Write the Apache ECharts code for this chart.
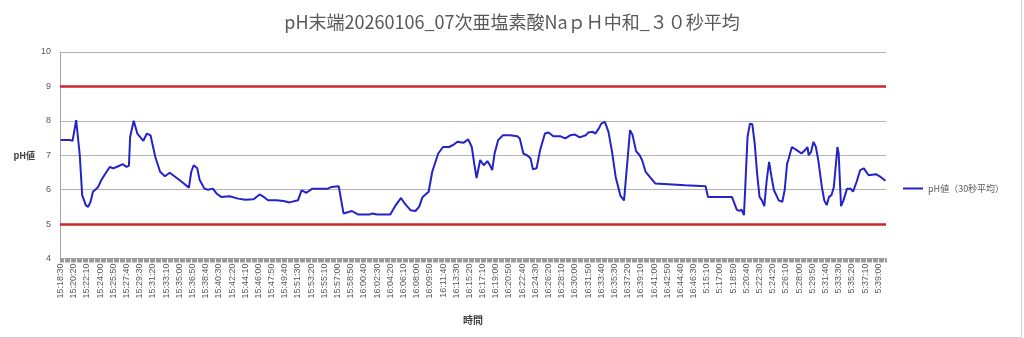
<!DOCTYPE html>
<html>
<head>
<meta charset="utf-8">
<script src="https://cdn.jsdelivr.net/npm/echarts@6/dist/echarts.min.js"></script>
<style>
html,body{margin:0;padding:0;background:#fff;}
#chart{width:1024px;height:338px;}
</style>
</head>
<body>
<div id="chart"></div>
<script>
// ---- data ----
var titleText = 'pH末端20260106_07次亜塩素酸NaｐＨ中和_３０秒平均';
var seriesName = 'pH値（30秒平均）';
// time segments of the category axis (10 s steps)
var segmentStarts = ['15:18:30', '5:15:10'];
var segmentCounts = [539, 150];
// sampled readings: category index and pH value
var sampleIndex = [0,8,10,13,16,18,21,23,25,27,31,34,37,41,44,48,52,55,57,58,61,64,69,72,75,79,83,87,91,95,101,107,109,111,114,116,120,123,127,130,134,141,148,154,161,166,169,173,180,186,191,198,201,205,210,215,223,226,232,233,236,243,248,258,260,264,275,279,284,287,292,296,299,302,307,310,315,319,324,328,331,336,340,343,345,347,350,353,356,358,360,362,365,369,375,381,383,386,389,392,394,397,400,404,407,411,417,421,425,429,433,438,440,444,446,449,451,454,457,460,463,467,470,472,475,477,480,483,485,488,492,496,507,521,538,540,560,564,566,568,570,571,573,575,577,579,581,583,585,587,589,591,593,595,599,602,604,606,607,610,614,618,621,623,624,626,628,630,632,635,637,639,641,643,645,648,649,651,653,656,659,661,664,667,670,674,680,684,688];
var sampleValue = [7.44,7.44,7.42,8.02,7.0,5.84,5.55,5.5,5.65,5.94,6.06,6.28,6.45,6.66,6.62,6.68,6.74,6.66,6.7,7.53,8.0,7.63,7.42,7.63,7.58,6.95,6.52,6.39,6.49,6.39,6.23,6.06,6.52,6.71,6.62,6.28,6.03,6.0,6.03,5.89,5.79,5.81,5.74,5.71,5.72,5.86,5.8,5.69,5.69,5.67,5.63,5.69,5.98,5.91,6.03,6.03,6.03,6.08,6.1,6.08,5.31,5.38,5.28,5.28,5.31,5.28,5.28,5.52,5.76,5.6,5.4,5.38,5.5,5.79,5.94,6.52,7.05,7.24,7.24,7.31,7.39,7.36,7.46,7.24,6.76,6.34,6.86,6.71,6.83,6.72,6.57,7.05,7.44,7.58,7.58,7.55,7.49,7.05,7.0,6.91,6.59,6.62,7.15,7.63,7.66,7.55,7.55,7.49,7.58,7.6,7.52,7.58,7.66,7.68,7.63,7.78,7.92,7.97,7.68,7.1,6.37,5.82,5.69,6.5,7.73,7.6,7.12,7.0,6.86,6.52,6.35,6.18,6.16,6.13,6.1,5.79,5.79,5.42,5.38,5.42,5.26,5.99,7.53,7.92,7.9,7.34,6.47,5.79,5.69,5.52,6.28,6.81,6.37,5.99,5.69,5.65,5.99,6.76,6.86,7.24,7.15,7.05,7.15,7.24,7.0,7.1,7.39,7.24,6.86,6.08,5.69,5.55,5.79,5.84,6.08,7.24,7.05,5.52,5.69,6.03,6.03,5.94,6.23,6.57,6.62,6.42,6.45,6.37,6.26];
var limitValues = [9, 5];
var yMin = 4, yMax = 10, yStep = 1;

// ---- build categories ----
function toSec(t){var p=t.split(':').map(Number);return p[0]*3600+p[1]*60+p[2];}
function toLabel(s){var h=Math.floor(s/3600),m=Math.floor(s%3600/60),x=s%60;return h+':'+(m<10?'0':'')+m+':'+(x<10?'0':'')+x;}
var categories=[];
segmentStarts.forEach(function(st,k){var s0=toSec(st);for(var i=0;i<segmentCounts[k];i++)categories.push(toLabel(s0+i*10));});
var seriesData=categories.map(function(){return null;});
sampleIndex.forEach(function(idx,k){seriesData[idx]=sampleValue[k];});

var FONT='"Liberation Sans","Noto Sans CJK JP",sans-serif';
var chart=echarts.init(document.getElementById('chart'),null,{renderer:'canvas'});
chart.setOption({
  animation:false,
  backgroundColor:'#ffffff',
  textStyle:{fontFamily:FONT},
  title:{text:titleText,left:'center',top:8,textStyle:{fontFamily:'"Noto Sans CJK JP",sans-serif',fontSize:18,fontWeight:'normal',color:'#595959'}},
  grid:{left:60,right:138,top:52,bottom:79.5,containLabel:false},
  legend:{data:[seriesName],orient:'vertical',left:898,top:179,icon:'rect',itemWidth:20,itemHeight:2,itemGap:4,
    textStyle:{fontFamily:'"Noto Sans CJK JP",sans-serif',fontSize:9,color:'#595959'}},
  xAxis:{type:'category',data:categories,boundaryGap:true,
    name:'時間',nameLocation:'middle',nameGap:57,
    nameTextStyle:{fontFamily:'"Noto Sans CJK JP",sans-serif',fontSize:10,fontWeight:'bold',color:'#404040'},
    axisLine:{lineStyle:{color:'#a6a6a6',width:1}},
    axisTick:{show:true,interval:0,length:4,lineStyle:{color:'#9a9a9a',width:1}},
    axisLabel:{interval:10,rotate:90,fontSize:9,color:'#595959',margin:5,fontFamily:FONT},
    splitLine:{show:false}},
  yAxis:{type:'value',min:yMin,max:yMax,interval:yStep,
    name:'pH値',nameLocation:'middle',nameRotate:0,nameGap:25,
    nameTextStyle:{fontFamily:'"Noto Sans CJK JP",sans-serif',fontSize:9,fontWeight:'bold',color:'#404040'},
    axisLine:{show:true,lineStyle:{color:'#a6a6a6'}},
    axisTick:{show:false},
    axisLabel:{fontSize:9,color:'#595959',margin:9,fontFamily:FONT},
    splitLine:{show:true,lineStyle:{color:'#b4b4b4',width:1}}},
  series:[{
    name:seriesName,type:'line',data:seriesData,connectNulls:true,showSymbol:false,symbol:'none',
    lineStyle:{color:'#2323c8',width:2},itemStyle:{color:'#2323c8'},
    markLine:{silent:true,symbol:'none',label:{show:false},
      lineStyle:{color:'#c8282d',width:2.5,type:'solid'},
      data:limitValues.map(function(v){return {yAxis:v};})},
    z:3
  }],
  graphic:[
    {type:'line',shape:{x1:1021.5,y1:0,x2:1021.5,y2:337.5},style:{stroke:'#d0d0d0',lineWidth:1},silent:true},
    {type:'line',shape:{x1:0,y1:337.5,x2:1021.5,y2:337.5},style:{stroke:'#d0d0d0',lineWidth:1},silent:true}
  ]
});
</script>
</body>
</html>
